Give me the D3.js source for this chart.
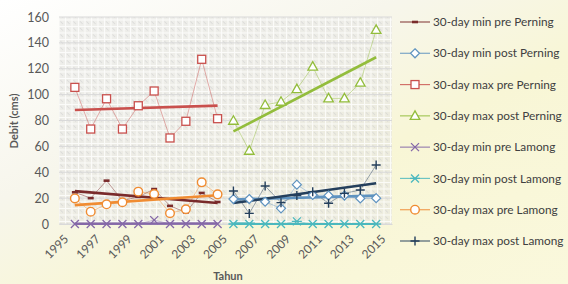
<!DOCTYPE html>
<html><head><meta charset="utf-8">
<script src="https://cdn.jsdelivr.net/npm/d3@7"></script>
<style>body{margin:0;background:#fff}svg{display:block}</style>
</head><body>
<script>
const preYears = [1996,1997,1998,1999,2000,2001,2002,2003,2004,2005];
const postYears = [2006,2007,2008,2009,2010,2011,2012,2013,2014,2015];
const minPrePerning  = [24.5,20,33.5,18,21,27,14,9,24,17];
const minPostPerning = [19.3,19.3,17.2,12.1,30.4,22.4,22,22,19.8,20];
const maxPrePerning  = [105.6,73.4,96.8,73.4,91.4,102.8,66.5,79.4,127.3,81.4];
const maxPostPerning = [79.8,56.6,92,94.5,104.3,121.6,97.1,97.1,109.2,150];
const minPreLamong   = [0,0,0,0,0,3,0,0,0,0];
const minPostLamong  = [0,0,0,0,2,0,0,0,0,0];
const maxPreLamong   = [19.8,9.5,15.2,16.8,25,23.2,8.3,11.4,32.2,22.9];
const maxPostLamong  = [25.5,8.2,29.4,16.5,22,25,16,23.7,26.3,45.6];
const seriesNames = ["30-day min pre Perning","30-day min post Perning","30-day max pre Perning","30-day max post Perning","30-day min pre Lamong","30-day min post Lamong","30-day max pre Lamong","30-day max post Lamong"];
const yTicks = [0,20,40,60,80,100,120,140,160];
const xTicks = [1995,1997,1999,2001,2003,2005,2007,2009,2011,2013,2015];

const series = [
  {name:seriesNames[0], years:preYears,  values:minPrePerning,  color:"#7a2b2b", marker:"dash"},
  {name:seriesNames[1], years:postYears, values:minPostPerning, color:"#5f93c0", marker:"diamond"},
  {name:seriesNames[2], years:preYears,  values:maxPrePerning,  color:"#c9504d", marker:"square"},
  {name:seriesNames[3], years:postYears, values:maxPostPerning, color:"#93bd3c", marker:"triangle"},
  {name:seriesNames[4], years:preYears,  values:minPreLamong,   color:"#8568a8", marker:"x"},
  {name:seriesNames[5], years:postYears, values:minPostLamong,  color:"#4bb8be", marker:"star"},
  {name:seriesNames[6], years:preYears,  values:maxPreLamong,   color:"#f08c32", marker:"circle"},
  {name:seriesNames[7], years:postYears, values:maxPostLamong,  color:"#243f5c", marker:"plus"}
];

const W=568,H=284;
const FONT="Lato, 'Open Sans', sans-serif";
const svg=d3.select("body").append("svg").attr("width",W).attr("height",H);
const defs=svg.append("defs");
const grad=defs.append("linearGradient").attr("id","bg").attr("x1","0").attr("y1","0").attr("x2","1").attr("y2","1");
grad.append("stop").attr("offset","0").attr("stop-color","#ffffff");
grad.append("stop").attr("offset","0.35").attr("stop-color","#f7f6ec");
grad.append("stop").attr("offset","0.6").attr("stop-color","#f8f6d6");
grad.append("stop").attr("offset","1").attr("stop-color","#faf8dc");
svg.append("rect").attr("width",W).attr("height",H).attr("fill","url(#bg)");

const pat=defs.append("pattern").attr("id","pp").attr("patternUnits","userSpaceOnUse").attr("width",6.5).attr("height",6.5);
pat.append("rect").attr("width",6.5).attr("height",6.5).attr("fill","#e6e6e2").attr("opacity",0.6);
pat.append("path").attr("d","M0,0.5H6.5M0.5,0V6.5").attr("stroke","#ffffff").attr("stroke-width",1).attr("opacity",0.8);
pat.append("path").attr("d","M2,2L4.5,4.5").attr("stroke","#cfcfcf").attr("stroke-width",0.8);

const x=d3.scaleLinear().domain([1995,2016]).range([59,392]);
const y=d3.scaleLinear().domain([0,160]).range([224,17]);

svg.append("rect").attr("x",59).attr("y",17).attr("width",392-59).attr("height",224-17).attr("fill","url(#pp)");

// gridlines
svg.append("g").selectAll("line").data(yTicks).join("line")
  .attr("x1",59).attr("x2",392).attr("y1",d=>y(d)).attr("y2",d=>y(d))
  .attr("stroke","#d9d9d9").attr("stroke-width",1);

// y axis
const yAxis=svg.append("g").attr("transform","translate(59,0)").call(d3.axisLeft(y).tickValues(yTicks).tickSize(0).tickPadding(10));
yAxis.select(".domain").remove();
yAxis.selectAll("text").attr("font-family",FONT).attr("font-size",12.5).attr("fill","#595959");

// x axis
const xAxis=svg.append("g").attr("transform","translate(0,224)").call(d3.axisBottom(x).tickValues(xTicks).tickFormat(d3.format("d")).tickSize(0).tickPadding(6));
xAxis.select(".domain").attr("stroke","#d9d9d9");
xAxis.selectAll("text").attr("font-family",FONT).attr("font-size",12).attr("fill","#595959")
  .attr("text-anchor","end").attr("dy","0.3em").attr("transform","translate(3,9) rotate(-45)");

svg.append("text").attr("transform","translate(18,121) rotate(-90)").attr("text-anchor","middle")
  .attr("font-family",FONT).attr("font-size",11).attr("font-weight","bold").attr("fill","#595959").text("Debit (cms)");
svg.append("text").attr("x",228).attr("y",280).attr("text-anchor","middle")
  .attr("font-family",FONT).attr("font-size",11).attr("font-weight","bold").attr("fill","#595959").text("Tahun");

function marker(g,type,color){
  if(type==="dash") g.append("rect").attr("x",-3).attr("y",-1.3).attr("width",6).attr("height",2.6).attr("fill",color);
  else if(type==="diamond") g.append("path").attr("d","M0,-4.5L4.5,0L0,4.5L-4.5,0Z").attr("fill","#fff").attr("stroke",color).attr("stroke-width",1.2);
  else if(type==="square") g.append("rect").attr("x",-4).attr("y",-4).attr("width",8).attr("height",8).attr("fill","#fff").attr("stroke",color).attr("stroke-width",1.3);
  else if(type==="triangle") g.append("path").attr("d","M0,-5L4.8,3.5L-4.8,3.5Z").attr("fill","#fff").attr("stroke",color).attr("stroke-width",1.3);
  else if(type==="x") g.append("path").attr("d","M-4,-4L4,4M-4,4L4,-4").attr("stroke",color).attr("stroke-width",1.3);
  else if(type==="star") g.append("path").attr("d","M-4,-4L4,4M-4,4L4,-4M-5,0H5").attr("stroke",color).attr("stroke-width",1.3);
  else if(type==="circle") g.append("circle").attr("r",4.3).attr("fill","#fff").attr("stroke",color).attr("stroke-width",1.4);
  else if(type==="plus") g.append("path").attr("d","M-4.5,0H4.5M0,-4.5V4.5").attr("stroke",color).attr("stroke-width",1.4);
}

const line=d3.line().x(d=>x(d[0])).y(d=>y(d[1]));
series.forEach(s=>{
  const pts=s.years.map((yr,i)=>[yr,s.values[i]]);
  svg.append("path").attr("d",line(pts)).attr("fill","none").attr("stroke",s.color).attr("stroke-width",1).attr("opacity",0.45);
});
series.forEach(s=>{
  const n=s.years.length, mx=d3.mean(s.years), my=d3.mean(s.values);
  const sxy=d3.sum(s.years,(yr,i)=>(yr-mx)*(s.values[i]-my)), sxx=d3.sum(s.years,yr=>(yr-mx)*(yr-mx));
  const b=sxy/sxx, a=my-b*mx;
  const x0=s.years[0], x1=s.years[n-1];
  svg.append("path").attr("d",line([[x0,a+b*x0],[x1,a+b*x1]])).attr("fill","none").attr("stroke",s.color).attr("stroke-width",2.6);
});
series.forEach(s=>{
  s.years.forEach((yr,i)=>{
    const g=svg.append("g").attr("transform",`translate(${x(yr)},${y(s.values[i])})`);
    marker(g,s.marker,s.color);
  });
});

const legY=d3.scaleLinear().domain([0,7]).range([22,241]);
series.forEach((s,i)=>{
  const ly=legY(i);
  svg.append("line").attr("x1",400).attr("x2",430).attr("y1",ly).attr("y2",ly).attr("stroke",s.color).attr("stroke-width",1.2).attr("opacity",0.8);
  const g=svg.append("g").attr("transform",`translate(415,${ly})`);
  marker(g,s.marker,s.color);
  svg.append("text").attr("x",433).attr("y",ly).attr("dy","0.35em").attr("font-family",FONT)
    .attr("font-size",11.8).attr("fill","#404040").text(s.name);
});
</script>
</body></html>
